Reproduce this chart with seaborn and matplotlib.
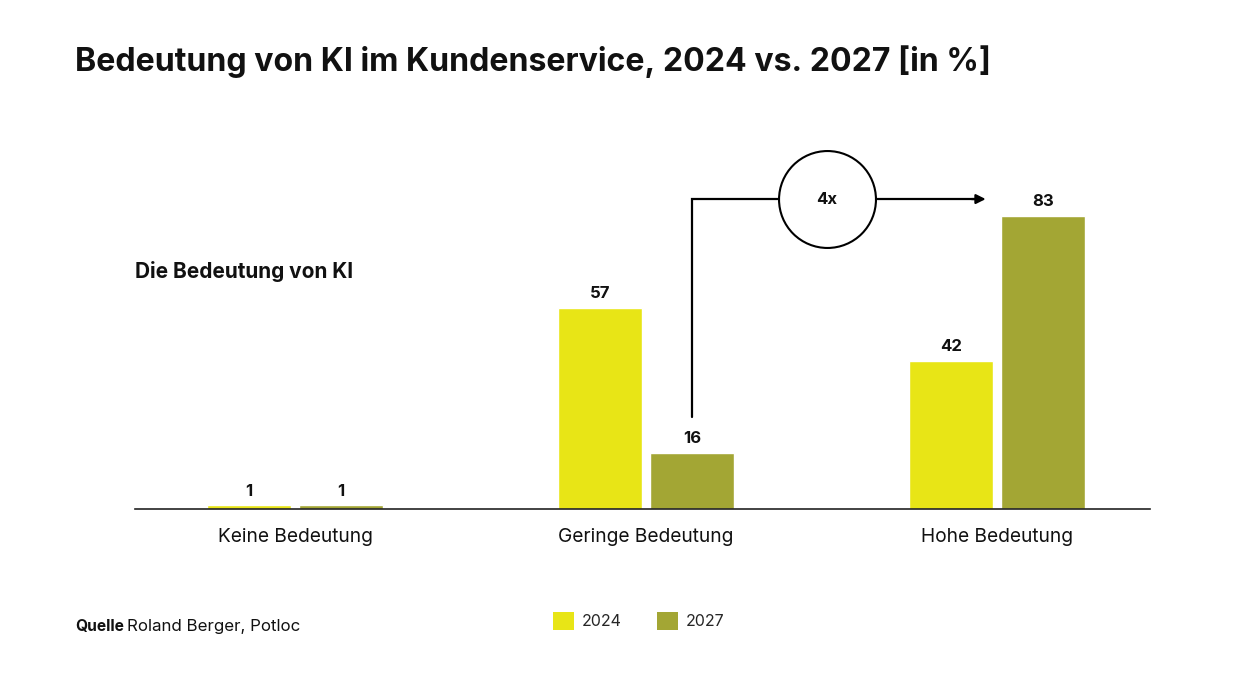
import matplotlib
matplotlib.use("Agg")
import matplotlib.pyplot as plt
import seaborn as sns
import pandas as pd
from matplotlib.patches import Patch

categories = ["Keine Bedeutung", "Geringe Bedeutung", "Hohe Bedeutung"]
years = ["2024", "2027"]
values_2024 = [1, 57, 42]
values_2027 = [1, 16, 83]
colors = ["#E8E516", "#A3A634"]

sns.set_theme(style="white")
plt.rcParams["font.family"] = ["Inter", "DejaVu Sans"]

df = pd.DataFrame({
    "Kategorie": categories * 2,
    "Jahr": [years[0]] * 3 + [years[1]] * 3,
    "Wert": values_2024 + values_2027,
})

W, H = 1260, 680
fig = plt.figure(figsize=(W / 100, H / 100), dpi=100)
ax = fig.add_axes([135 / W, (H - 509) / H, 1015 / W, 369 / H])

sns.barplot(data=df, x="Kategorie", y="Wert", hue="Jahr", palette=colors,
            width=0.524, gap=0.08, order=categories, hue_order=years,
            legend=False, ax=ax, saturation=1)

ax.set_xlim(-0.456, 2.436)
ax.set_ylim(0, 369 / 3.53)
for s in ["top", "right", "left"]:
    ax.spines[s].set_visible(False)
ax.spines["bottom"].set_color("#222222")
ax.spines["bottom"].set_linewidth(1.2)
ax.set_yticks([])
ax.set_xlabel("")
ax.set_ylabel("")
ax.tick_params(axis="x", length=0, pad=14, labelsize=13.8, labelcolor="#111111")

for cont in ax.containers:
    ax.bar_label(cont, labels=[f"{v:.0f}" for v in cont.datavalues], padding=5,
                 fontsize=12, fontweight="bold", color="#111111")

# arrow from Geringe 2027 to Hohe 2027
olive_bars = ax.containers[1]
b_ger = olive_bars[1]
x0 = b_ger.get_x() + b_ger.get_width() / 2
b_hoh = ax.containers[0][2]
x1 = b_hoh.get_x() + b_hoh.get_width() * 0.91
y_top = 87.8
y_bot = 26
ax.plot([x0, x0, x1 - 0.03], [y_bot, y_top, y_top], color="black", lw=1.6,
        solid_joinstyle="miter", clip_on=False)
ax.annotate("", xy=(x1, y_top), xytext=(x1 - 0.04, y_top),
            arrowprops=dict(arrowstyle="-|>", color="black", lw=1.6,
                            mutation_scale=14, shrinkA=0, shrinkB=0),
            annotation_clip=False)
xc = (827 - 135) / 351 - 0.456
ax.scatter([xc], [y_top], s=4870, facecolor="white", edgecolor="black",
           linewidth=1.5, zorder=5, clip_on=False)
ax.text(xc, y_top, "4x", ha="center", va="center", fontsize=12,
        fontweight="bold", zorder=6, color="#111111")

fig.text(75 / W, 1 - 62 / H, "Bedeutung von KI im Kundenservice, 2024 vs. 2027 [in %]",
         fontsize=23.1, fontweight="bold", ha="left", va="center", color="#111111")
fig.text(135 / W, 1 - 272 / H, "Die Bedeutung von KI", fontsize=15,
         fontweight="bold", ha="left", va="center", color="#111111")

fig.text(75 / W, 1 - 626 / H, "Quelle", fontsize=11.2, fontweight="bold",
         ha="left", va="center", color="#111111")
fig.text(127 / W, 1 - 626 / H, "Roland Berger, Potloc", fontsize=12.2,
         ha="left", va="center", color="#111111")

# legend
handles = [Patch(facecolor=c, edgecolor="none") for c in colors]
fig.legend(handles, years, loc="center left",
           bbox_to_anchor=(539 / W, 1 - 621 / H), ncol=2, frameon=False,
           fontsize=11.5, handlelength=1.3, handleheight=1.3,
           handletextpad=0.5, columnspacing=2.2)

fig.savefig("out.png", dpi=100, facecolor="white")
